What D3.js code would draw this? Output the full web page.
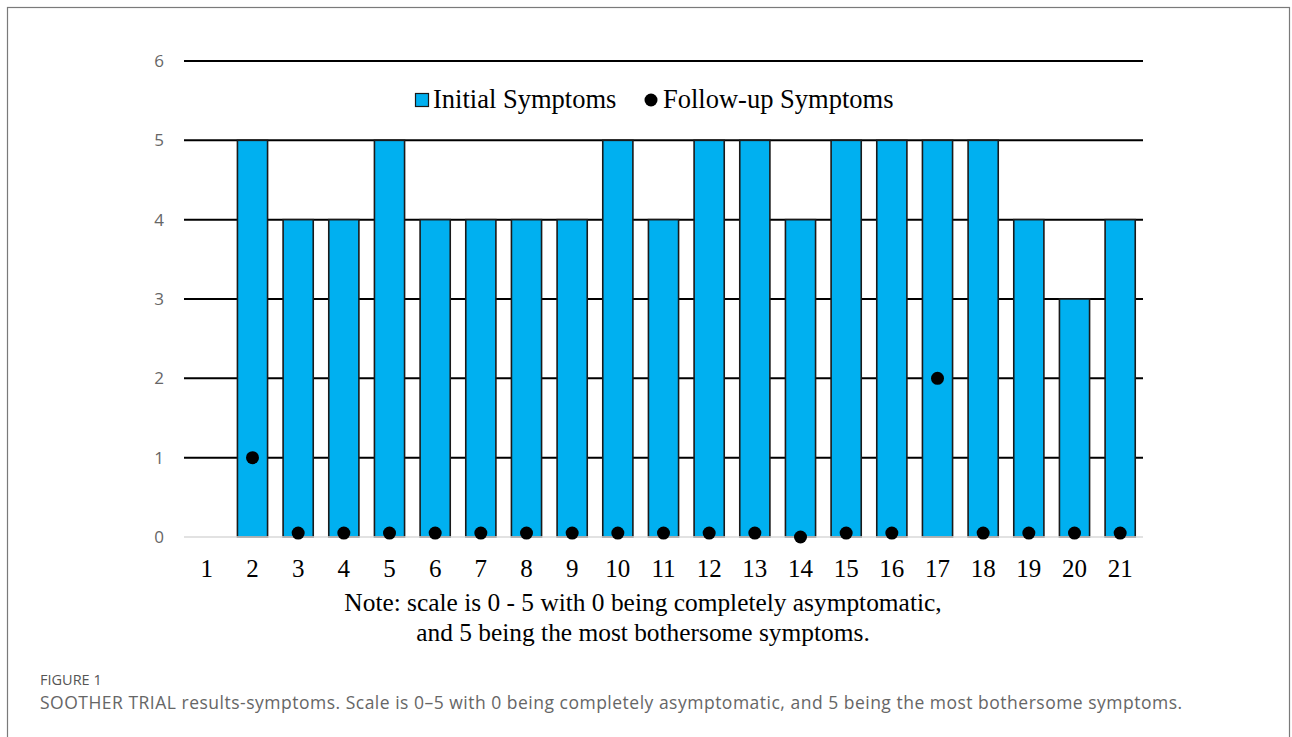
<!DOCTYPE html>
<html>
<head>
<meta charset="utf-8">
<script src="https://cdn.jsdelivr.net/npm/d3@7"></script>
<style>
  html, body { margin: 0; padding: 0; background: #fff; }
  svg { display: block; }
</style>
</head>
<body>
<svg id="chart" width="1292" height="737"></svg>
<script>
const categories = ["1","2","3","4","5","6","7","8","9","10","11","12","13","14","15","16","17","18","19","20","21"];
const initialSymptoms = [null,5,4,4,5,4,4,4,4,5,4,5,5,4,5,5,5,5,4,3,4];
const followUpSymptoms = [null,1,0.05,0.05,0.05,0.05,0.05,0.05,0.05,0.05,0.05,0.05,0.05,0,0.05,0.05,2,0.05,0.05,0.05,0.05];
const yTicks = [0,1,2,3,4,5,6];
const legendLabels = ["Initial Symptoms", "Follow-up Symptoms"];
const noteLines = ["Note: scale is 0 - 5 with 0 being completely asymptomatic,", "and 5 being the most bothersome symptoms."];
const figureLabel = "FIGURE 1";
const captionText = "SOOTHER TRIAL results-symptoms. Scale is 0\u20135 with 0 being completely asymptomatic, and 5 being the most bothersome symptoms.";

const svg = d3.select("#chart");
const serif = "'Liberation Serif', 'Times New Roman', serif";
const sans = "'Open Sans', 'Noto Sans', sans-serif";

// frame
svg.append("rect").attr("x", 7.5).attr("y", 7.5).attr("width", 1282).attr("height", 740)
  .attr("fill", "none").attr("stroke", "#7a7a7a").attr("stroke-width", 1.2);

const x = d3.scaleBand().domain(categories).range([184, 1143]).paddingInner(0.34).paddingOuter(0.17);
const y = d3.scaleLinear().domain([0, 6]).range([537, 61]);

// gridlines
const grid = svg.append("g");
grid.selectAll("line").data(yTicks.filter(d => d > 0)).join("line")
  .attr("x1", 184).attr("x2", 1143)
  .attr("y1", d => y(d)).attr("y2", d => y(d))
  .attr("stroke", "#000").attr("stroke-width", 2);

// y axis labels
const yAxis = d3.axisLeft(y).tickValues(yTicks).tickFormat(d3.format("d")).tickSize(0).tickPadding(20);
const yg = svg.append("g").attr("transform", "translate(184,0)").call(yAxis);
yg.select(".domain").remove();
yg.selectAll("text").attr("font-family", sans).attr("font-size", 17).attr("fill", "#666");

// bars
svg.append("g").selectAll("rect")
  .data(categories.map((c, i) => ({c, v: initialSymptoms[i]})).filter(d => d.v != null))
  .join("rect")
  .attr("x", d => x(d.c)).attr("width", x.bandwidth())
  .attr("y", d => y(d.v)).attr("height", d => y(0) - y(d.v))
  .attr("fill", "#00B0F0").attr("stroke", "#1a1a1a").attr("stroke-width", 1.6);

// baseline
svg.append("line").attr("x1", 184).attr("x2", 1143).attr("y1", y(0)).attr("y2", y(0))
  .attr("stroke", "#d9d9d9").attr("stroke-width", 1.5);

// dots
svg.append("g").selectAll("circle")
  .data(categories.map((c, i) => ({c, v: followUpSymptoms[i]})).filter(d => d.v != null))
  .join("circle")
  .attr("cx", d => x(d.c) + x.bandwidth() / 2)
  .attr("cy", d => y(d.v))
  .attr("r", 6.5).attr("fill", "#000");

// x axis labels
const xAxis = d3.axisBottom(x).tickSize(0).tickPadding(22);
const xg = svg.append("g").attr("transform", `translate(0,${y(0)})`).call(xAxis);
xg.select(".domain").remove();
xg.selectAll("text").attr("font-family", serif).attr("font-size", 25).attr("fill", "#000");

// legend
const lg = svg.append("g");
lg.append("rect").attr("x", 415.5).attr("y", 93.5).attr("width", 13).attr("height", 13)
  .attr("fill", "#00B0F0").attr("stroke", "#1a1a1a").attr("stroke-width", 1.2);
lg.append("text").attr("x", 433).attr("y", 108).text(legendLabels[0])
  .attr("font-family", serif).attr("font-size", 26.5).attr("fill", "#000");
lg.append("circle").attr("cx", 651).attr("cy", 100).attr("r", 6.5).attr("fill", "#000");
lg.append("text").attr("x", 663).attr("y", 108).text(legendLabels[1])
  .attr("font-family", serif).attr("font-size", 26.5).attr("fill", "#000");

// note
svg.append("g").selectAll("text").data(noteLines).join("text")
  .attr("x", 643).attr("y", (d, i) => 611 + i * 30)
  .attr("text-anchor", "middle")
  .attr("font-family", serif).attr("font-size", 25.4).attr("fill", "#000")
  .text(d => d);

// caption
svg.append("text").attr("x", 40).attr("y", 685).text(figureLabel)
  .attr("font-family", sans).attr("font-size", 14.5).attr("fill", "#555");
svg.append("text").attr("x", 40).attr("y", 709).text(captionText)
  .attr("font-family", sans).attr("font-size", 17.5).attr("letter-spacing", 0.5).attr("fill", "#666");
</script>
</body>
</html>
